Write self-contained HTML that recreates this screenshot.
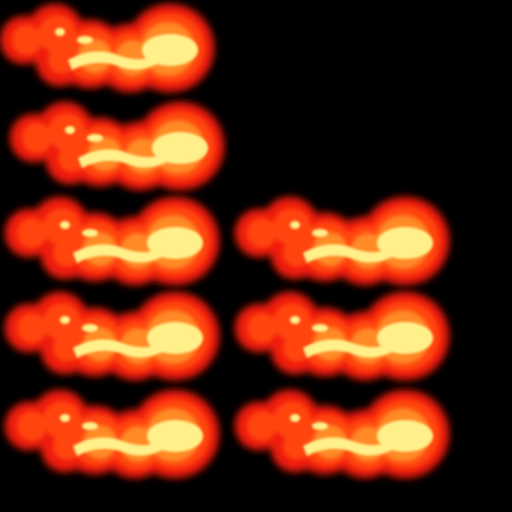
<!DOCTYPE html>
<html><head><meta charset="utf-8"><style>
html,body{margin:0;padding:0;background:#000;}
svg{display:block;}
</style></head><body>
<svg width="512" height="512" viewBox="0 0 512 512">
<defs>
<filter id="b" x="-20%" y="-30%" width="140%" height="160%"><feGaussianBlur stdDeviation="4"/></filter>
<filter id="c" x="-20%" y="-30%" width="140%" height="160%"><feGaussianBlur stdDeviation="2.5"/></filter>
<filter id="d" x="-20%" y="-30%" width="140%" height="160%"><feGaussianBlur stdDeviation="1.2"/></filter>
<g id="flame">
  <g fill="#f01a08" filter="url(#b)">
    <circle cx="24" cy="40" r="24"/><circle cx="55" cy="32" r="28"/>
    <circle cx="90" cy="54" r="34"/><circle cx="130" cy="58" r="34"/>
    <circle cx="170" cy="48" r="44"/><circle cx="60" cy="62" r="24"/>
  </g>
  <g fill="#ff4510" filter="url(#c)">
    <circle cx="27" cy="40" r="15"/><circle cx="57" cy="34" r="19"/>
    <circle cx="92" cy="54" r="26"/><circle cx="132" cy="58" r="26"/>
    <circle cx="170" cy="48" r="35"/><circle cx="62" cy="60" r="14"/>
  </g>
  <g fill="#ff8a25" filter="url(#c)">
    <circle cx="95" cy="56" r="17"/><circle cx="133" cy="58" r="18"/>
    <circle cx="168" cy="49" r="27"/>
  </g>
  <g fill="#fff08a" filter="url(#d)">
    <ellipse cx="170" cy="50" rx="28" ry="16"/>
    <path d="M68 60 Q95 45 120 56 Q145 64 158 52 L168 58 Q140 76 118 66 Q95 58 72 70 Z"/>
    <ellipse cx="60" cy="32" rx="5" ry="4"/><ellipse cx="85" cy="40" rx="8" ry="4"/>
  </g>
</g>
</defs>
<rect width="512" height="512" fill="#000"/>
<use href="#flame" x="0" y="0"/>
<use href="#flame" x="10" y="98"/>
<use href="#flame" x="5" y="193"/>
<use href="#flame" x="235" y="193"/>
<use href="#flame" x="5" y="288"/>
<use href="#flame" x="235" y="288"/>
<use href="#flame" x="5" y="386"/>
<use href="#flame" x="235" y="386"/>
</svg>
</body></html>
